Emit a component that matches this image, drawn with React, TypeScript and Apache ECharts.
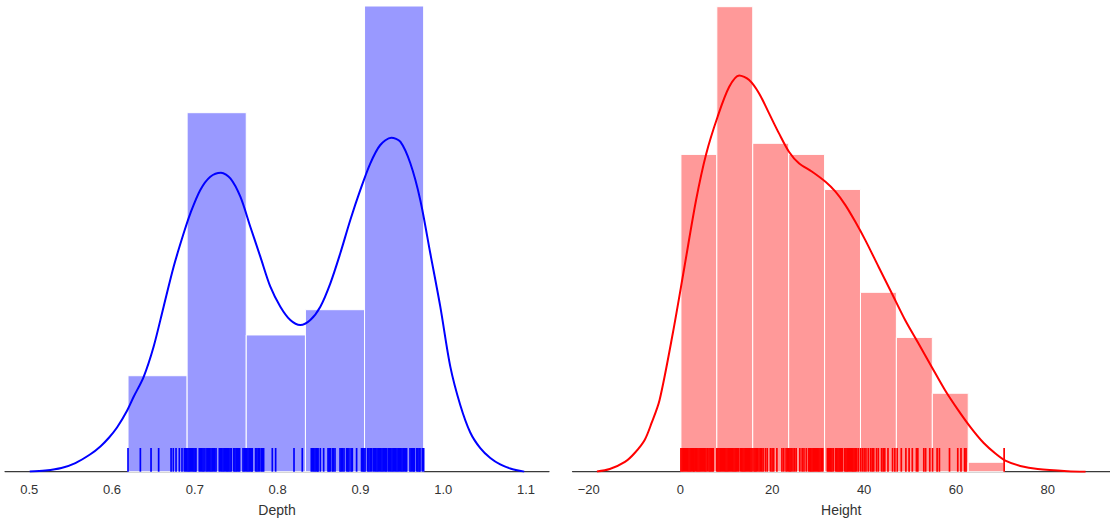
import React, { useEffect, useRef } from "react";
import * as echarts from "echarts";

// ---------- Depth (left panel) ----------
const depthBinEdges = [0.6193, 0.6907, 0.7621, 0.8336, 0.905, 0.9764];
const depthDensity = [1.102, 4.122, 1.57, 1.86, 5.347];
const depthKdeX = [
  0.5006, 0.5194, 0.5388, 0.5557, 0.5738, 0.5859, 0.5962, 0.606, 0.6181, 0.6261,
  0.6382, 0.6502, 0.6623, 0.6744, 0.6865, 0.6946, 0.7066, 0.7187, 0.7316, 0.7429,
  0.755, 0.767, 0.7791, 0.7912, 0.8033, 0.8153, 0.8274, 0.8395, 0.8516, 0.8637,
  0.8757, 0.8878, 0.8999, 0.912, 0.924, 0.9373, 0.9482, 0.9603, 0.9723, 0.9844,
  0.9965, 1.0086, 1.0206, 1.0327, 1.0448, 1.0569, 1.0689, 1.081, 1.0979,
];
const depthKdeY = [
  0.001, 0.014, 0.043, 0.099, 0.2, 0.29, 0.39, 0.507, 0.7, 0.86,
  1.09, 1.435, 1.895, 2.354, 2.737, 2.967, 3.235, 3.387, 3.433, 3.369,
  3.158, 2.813, 2.469, 2.124, 1.895, 1.742, 1.684, 1.742, 1.895, 2.163,
  2.508, 2.89, 3.235, 3.541, 3.751, 3.835, 3.789, 3.541, 3.12, 2.508,
  1.895, 1.206, 0.766, 0.45, 0.27, 0.157, 0.083, 0.037, 0.001,
];
const depthRug = [
  0.6193, 0.6342, 0.6471, 0.6563, 0.6713, 0.674, 0.6773, 0.6813, 0.6845,
  0.6873, 0.6888, 0.6902, 0.6917, 0.6931, 0.6946, 0.696, 0.6975, 0.6989, 0.7003, 0.7014,
  0.7054, 0.7068, 0.7083, 0.7098, 0.7112,
  0.7135, 0.715, 0.7165, 0.718, 0.7195, 0.721, 0.7225, 0.724, 0.7256,
  0.7296, 0.7311, 0.7326, 0.7341, 0.7356, 0.7371, 0.7386, 0.7396, 0.741, 0.7425, 0.744,
  0.7469, 0.7484, 0.7499, 0.7514, 0.7528, 0.7541,
  0.7582, 0.7597, 0.7612, 0.7627, 0.7642, 0.7657, 0.7672, 0.7687, 0.7694,
  0.7734, 0.775, 0.7766, 0.7783, 0.7803, 0.7817, 0.7831,
  0.7936, 0.7976, 0.8198, 0.8298,
  0.8407, 0.8422, 0.8437, 0.8452, 0.8467, 0.8482, 0.8488, 0.8516, 0.8556,
  0.8609, 0.8622, 0.8636, 0.8661, 0.8673, 0.8693,
  0.8754, 0.8769, 0.8784, 0.8802, 0.8833, 0.8848, 0.8862, 0.8887, 0.8902, 0.8954,
  0.9014, 0.9028, 0.9042, 0.9056, 0.9087, 0.9103, 0.9119, 0.9135,
  0.9156, 0.9171, 0.9186, 0.9201, 0.9216, 0.9231, 0.9246, 0.9261, 0.9276, 0.9291, 0.9306, 0.9316,
  0.9337, 0.9352, 0.9367, 0.9382, 0.9397, 0.9412, 0.9427, 0.9442, 0.9457, 0.9472, 0.9487,
  0.9502, 0.9517, 0.9532, 0.9547, 0.9558,
  0.9599, 0.9614, 0.9629, 0.9644, 0.9651, 0.9679, 0.9694, 0.9709, 0.972, 0.9748, 0.9764,
];
const depthTicks = [0.5, 0.6, 0.7, 0.8, 0.9, 1.0, 1.1];

// ---------- Height (right panel) ----------
const heightBinEdges = [0.1, 7.92, 15.74, 23.57, 31.39, 39.21, 47.03, 54.86, 62.68, 70.5];
const heightDensity = [0.01921, 0.02815, 0.01988, 0.01921, 0.01709, 0.01086, 0.00813, 0.00475, 0.00057];
const heightKdeX = [
  -18.2, -15.4, -12.1, -9.97, -7.8, -6.29, -4.55, -1.67, 0.87, 3.4,
  5.57, 8.09, 10.62, 12.79, 14.96, 17.13, 19.3, 21.46, 23.63, 25.8,
  28.68, 31.59, 33.76, 35.92, 38.09, 40.26, 43.14, 46.03, 48.93, 51.82,
  54.7, 57.6, 60.49, 63.37, 66.0, 68.6, 70.89, 74.0, 77.83, 84.34, 88.24,
];
const heightKdeY = [
  0.00001, 0.00016, 0.00059, 0.00113, 0.00192, 0.00295, 0.00434, 0.00838, 0.01241, 0.01645,
  0.01921, 0.02149, 0.0233, 0.02399, 0.02371, 0.0229, 0.02169, 0.02048, 0.01937, 0.01867,
  0.01816, 0.01755, 0.01695, 0.01614, 0.01513, 0.01402, 0.01241, 0.0108, 0.00918, 0.00777,
  0.00636, 0.00495, 0.00373, 0.00262, 0.00175, 0.0011, 0.00065, 0.00035, 0.00016, 0.00003, 0.0,
];
const heightRug = [
  0.1, 0.35, 0.6, 0.85, 1.1, 1.35, 1.6, 1.85, 2.1, 2.35, 2.6, 2.85, 2.97,
  3.3, 3.55, 3.8, 4.05, 4.3, 4.55, 4.8, 5.05, 5.3, 5.55, 5.85,
  6.2, 6.45, 6.7, 6.95, 7.15,
  7.9, 8.15, 8.4, 8.65, 8.9, 9.15, 9.4, 9.65, 9.9, 10.15, 10.4, 10.65, 10.9, 11.15,
  11.4, 11.65, 11.9, 12.15, 12.4, 12.7,
  13.1, 13.35, 13.6, 13.85, 14.1, 14.35, 14.6, 14.85, 15.1, 15.35, 15.6,
  16.0, 16.25, 16.5, 16.75, 17.1, 17.4, 17.7, 18.0, 18.5, 18.9,
  19.6, 19.95, 20.3, 21.0, 22.1, 22.5, 23.0,
  23.3, 23.6, 23.85, 24.1, 24.5, 24.85, 25.2, 26.0, 26.5, 26.9, 27.4,
  27.9, 28.15, 28.4, 28.65, 28.9, 29.15, 29.4, 29.65, 29.9, 30.15, 30.4, 30.7, 31.0,
  32.0, 32.25, 32.5, 32.75, 33.0, 33.3,
  33.8, 34.05, 34.3, 34.55, 34.8, 35.05, 35.3,
  35.8, 36.05, 36.3, 36.55, 36.8, 37.05, 37.3, 37.55, 37.8, 38.05, 38.3, 38.7,
  39.2, 39.6, 40.0, 40.4, 40.9, 41.4, 41.75, 42.1, 42.7, 43.1,
  43.8, 44.15, 44.5, 45.2, 46.2, 46.7,
  47.2, 48.1, 49.1, 49.8, 50.5, 51.4, 51.7, 53.0, 53.4, 54.3, 54.9, 55.9, 56.4,
  58.6, 60.4, 61.1, 61.9, 62.2, 70.5,
];
const heightTicks = [-20, 0, 20, 40, 60, 80];

const FONT = "'Liberation Sans', Arial, sans-serif";
const TEXT = "#333333";

function histSeries(idx: number, edges: number[], dens: number[], fill: string) {
  return {
    type: "custom",
    xAxisIndex: idx,
    yAxisIndex: idx,
    data: dens.map((d, i) => [edges[i], edges[i + 1], d]),
    encode: { x: [0, 1], y: 2 },
    renderItem: (_p: any, api: any) => {
      const a = api.coord([api.value(0), api.value(2)]);
      const b = api.coord([api.value(1), 0]);
      return {
        type: "rect",
        shape: { x: a[0], y: a[1], width: b[0] - a[0], height: b[1] - a[1] },
        style: { fill, stroke: "#ffffff", lineWidth: 1 },
      };
    },
    z: 1,
  };
}

function kdeSeries(idx: number, xs: number[], ys: number[], color: string) {
  return {
    type: "line",
    xAxisIndex: idx,
    yAxisIndex: idx,
    data: xs.map((x, i) => [x, ys[i]]),
    smooth: 0.3,
    showSymbol: false,
    symbol: "none",
    lineStyle: { color, width: 2 },
    z: 3,
  };
}

function rugSeries(idx: number, vals: number[], color: string) {
  return {
    type: "custom",
    xAxisIndex: idx,
    yAxisIndex: idx,
    data: vals.map((v) => [v, 0]),
    encode: { x: 0, y: 1 },
    renderItem: (_p: any, api: any) => {
      const p = api.coord([api.value(0), 0]);
      return {
        type: "line",
        shape: { x1: p[0], y1: p[1], x2: p[0], y2: p[1] - 23.7 },
        style: { stroke: color, lineWidth: 1.7 },
      };
    },
    z: 4,
  };
}

function xAxis(idx: number, min: number, max: number, ticks: number[], name: string, fmt: (v: number) => string) {
  return {
    type: "value",
    gridIndex: idx,
    min,
    max,
    name,
    nameLocation: "middle",
    nameGap: 31,
    nameTextStyle: { fontFamily: FONT, fontSize: 14, color: TEXT },
    axisLine: { show: true, onZero: false, lineStyle: { color: "#3a3a3a", width: 1.25 } },
    axisTick: { show: false },
    splitLine: { show: false },
    axisLabel: {
      customValues: ticks,
      formatter: (v: number) => fmt(v),
      fontFamily: FONT,
      fontSize: 13,
      color: TEXT,
      margin: 11,
    },
  };
}

function yAxis(idx: number, max: number) {
  return {
    type: "value",
    gridIndex: idx,
    min: 0,
    max,
    show: false,
    splitLine: { show: false },
  };
}

export default function App() {
  const ref = useRef<HTMLDivElement>(null);
  useEffect(() => {
    if (!ref.current) return;
    const chart = echarts.init(ref.current, null, { renderer: "svg" });
    chart.setOption({
      animation: false,
      backgroundColor: "#ffffff",
      grid: [
        { left: 5, top: 6, width: 544, bottom: 53.3 },
        { left: 572.5, top: 6.7, width: 540, bottom: 53.3 },
      ],
      xAxis: [
        xAxis(0, 0.4707, 1.1278, depthTicks, "Depth", (v) => v.toFixed(1)),
        xAxis(1, -23.52, 93.56, heightTicks, "Height", (v) => String(v).replace("-", "\u2212")),
      ],
      yAxis: [yAxis(0, Math.max(...depthDensity)), yAxis(1, Math.max(...heightDensity))],
      series: [
        histSeries(0, depthBinEdges, depthDensity, "#9999ff"),
        kdeSeries(0, depthKdeX, depthKdeY, "#0000ff"),
        rugSeries(0, depthRug, "#0000ff"),
        histSeries(1, heightBinEdges, heightDensity, "#ff9999"),
        kdeSeries(1, heightKdeX, heightKdeY, "#ff0000"),
        rugSeries(1, heightRug, "#ff0000"),
      ],
    });
    return () => chart.dispose();
  }, []);
  return (
    <div
      ref={ref}
      style={{ position: "fixed", left: 0, top: 0, width: 1110, height: 525, background: "#fff" }}
    />
  );
}
